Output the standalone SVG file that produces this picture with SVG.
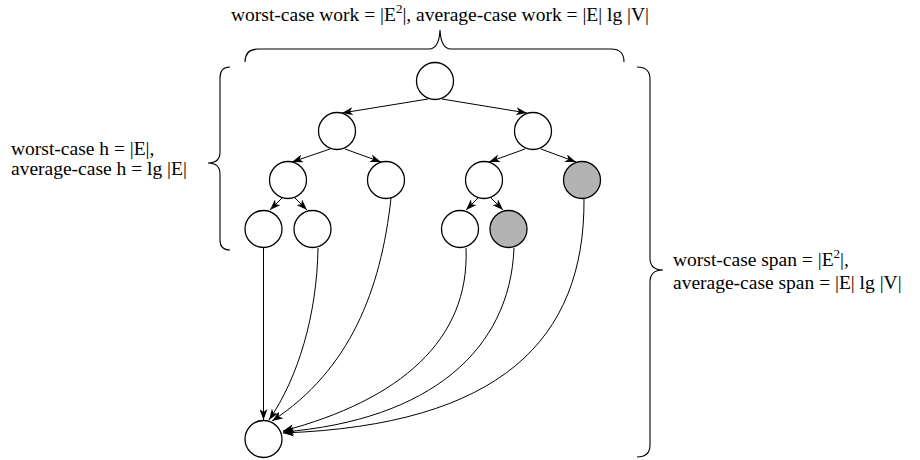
<svg xmlns="http://www.w3.org/2000/svg" width="920" height="460" viewBox="0 0 920 460">
  <style>
    .node { fill: #ffffff; stroke: #000000; stroke-width: 1.3; }
    .node.shaded { fill: #b3b3b3; }
    .edge { fill: none; stroke: #000000; stroke-width: 1; marker-end: url(#arrow); }
    .brace { fill: none; stroke: #000000; stroke-width: 1.1; }
    .label { font-family: "Liberation Serif", "Times New Roman", serif; font-size: 19.5px; fill: #000000; }
    .sup { font-size: 13px; }
  </style>
  <defs>
    <marker id="arrow" markerUnits="userSpaceOnUse" markerWidth="12" markerHeight="8" refX="11" refY="4" orient="auto">
      <path d="M0,0 L11,4 L0,8 L3,4 z" fill="#000000"/>
    </marker>
  </defs>

  <rect width="920" height="460" fill="#ffffff"/>

  <!-- braces -->
  <g id="braces">
    <path class="brace" d="M245,62 Q245,49 258,49 L429,49 Q439,49 440,30 Q441,49 451,49 L611,49 Q624,49 624,62"/>
    <path class="brace" d="M230,67 Q220,67 220,78 L220,152 Q220,163 208,163 Q220,163 220,174 L220,240 Q220,250 230,250"/>
    <path class="brace" d="M637,67 Q650,67 650,79 L650,258 Q650,270 663,270 Q650,270 650,282 L650,445 Q650,457 637,457"/>
  </g>

  <!-- labels -->
  <g id="labels">
    <text class="label" x="440" y="21" text-anchor="middle">worst-case work = |E<tspan class="sup" dy="-8">2</tspan><tspan dy="8">|, average-case work = |E| lg |V|</tspan></text>
    <text class="label" x="11" y="155">worst-case h = |E|,</text>
    <text class="label" x="11" y="175">average-case h = lg |E|</text>
    <text class="label" x="673" y="266">worst-case span = |E<tspan class="sup" dy="-8">2</tspan><tspan dy="8">|,</tspan></text>
    <text class="label" x="673" y="289">average-case span = |E| lg |V|</text>
  </g>

  <!-- connectors -->
  <g id="connectors">
    <line class="edge" x1="428" y1="99" x2="342" y2="113"/>
    <line class="edge" x1="442" y1="99" x2="527" y2="113"/>
    <line class="edge" x1="330" y1="149" x2="292" y2="162"/>
    <line class="edge" x1="345" y1="149" x2="381" y2="162"/>
    <line class="edge" x1="525" y1="149" x2="489" y2="162"/>
    <line class="edge" x1="541" y1="149" x2="576" y2="162"/>
    <line class="edge" x1="282" y1="198" x2="270" y2="210"/>
    <line class="edge" x1="295" y1="198" x2="307" y2="210"/>
    <line class="edge" x1="478" y1="198" x2="466" y2="210"/>
    <line class="edge" x1="491" y1="198" x2="503" y2="210"/>
    <line class="edge" x1="263.5" y1="248" x2="263.5" y2="420"/>
    <path class="edge" d="M318,248 C317,315 298,378 269,420"/>
    <path class="edge" d="M391,198 C381,290 350,370 272,421"/>
    <path class="edge" d="M466,248 C470,340 400,400 283,431"/>
    <path class="edge" d="M514,248 C510,350 430,420 283,432"/>
    <path class="edge" d="M584,199 C585,340 500,425 283,433"/>
  </g>

  <!-- nodes -->
  <g id="n-root"><circle class="node" cx="435" cy="81" r="18.5"/></g>
  <g id="n-l1a"><circle class="node" cx="337" cy="131" r="18.5"/></g>
  <g id="n-l1b"><circle class="node" cx="533" cy="131" r="18.5"/></g>
  <g id="n-l2a"><circle class="node" cx="288" cy="180" r="18.5"/></g>
  <g id="n-l2b"><circle class="node" cx="386" cy="180" r="18.5"/></g>
  <g id="n-l2c"><circle class="node" cx="484" cy="180" r="18.5"/></g>
  <g id="n-l2d"><circle class="node shaded" cx="582" cy="180" r="18.5"/></g>
  <g id="n-l3a"><circle class="node" cx="263.5" cy="229" r="18.5"/></g>
  <g id="n-l3b"><circle class="node" cx="312.5" cy="229" r="18.5"/></g>
  <g id="n-l3c"><circle class="node" cx="460" cy="229" r="18.5"/></g>
  <g id="n-l3d"><circle class="node shaded" cx="508.5" cy="229" r="18.5"/></g>
  <g id="n-sink"><circle class="node" cx="263.5" cy="439" r="18.5"/></g>
</svg>
